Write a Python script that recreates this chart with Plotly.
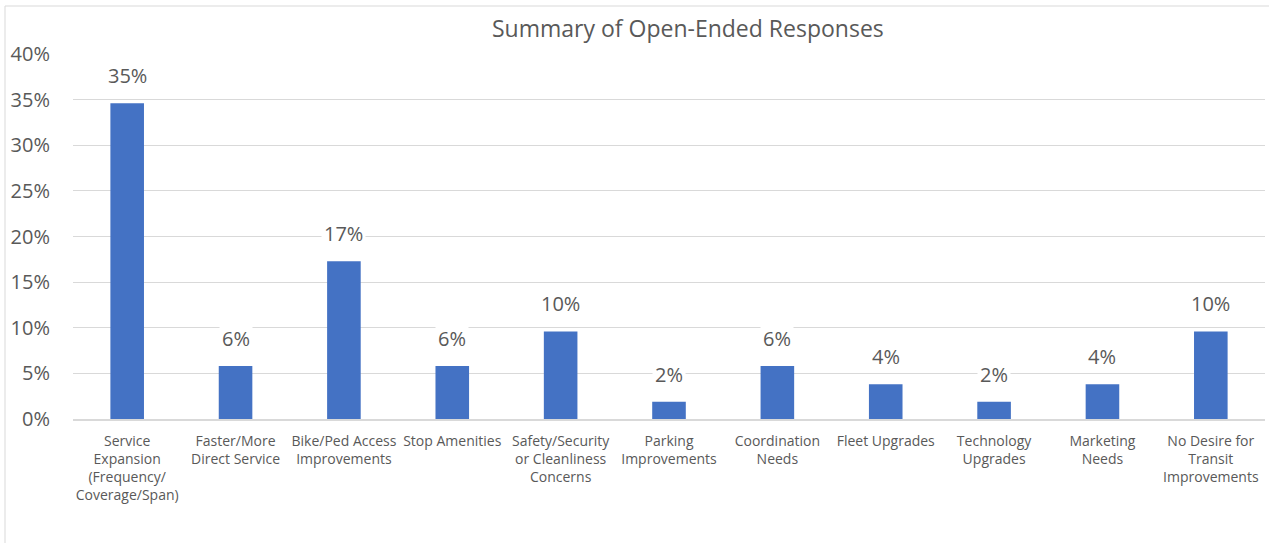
import plotly.graph_objects as go

categories = [
    "Service<br>Expansion<br>(Frequency/<br>Coverage/Span)",
    "Faster/More<br>Direct Service",
    "Bike/Ped Access<br>Improvements",
    "Stop Amenities",
    "Safety/Security<br>or Cleanliness<br>Concerns",
    "Parking<br>Improvements",
    "Coordination<br>Needs",
    "Fleet Upgrades",
    "Technology<br>Upgrades",
    "Marketing<br>Needs",
    "No Desire for<br>Transit<br>Improvements",
]
shares = [0.346, 0.058, 0.173, 0.058, 0.096, 0.019, 0.058, 0.038, 0.019, 0.038, 0.096]
y_ticks = [0, 0.05, 0.10, 0.15, 0.20, 0.25, 0.30, 0.35, 0.40]

FONT = "Open Sans"
GREY = "#595959"
GRID = "#d9d9d9"

W, H = 1269, 543
ML, MR, MT, MB = 73, 4, 54, 124
pw, ph = W - ML - MR, H - MT - MB

fig = go.Figure(
    go.Bar(
        x=categories,
        y=shares,
        marker=dict(color="#4472C4", line=dict(width=0)),
        hoverinfo="skip",
    )
)

# value labels with white boxes over the gridlines
for c, v in zip(categories, shares):
    fig.add_annotation(
        x=c, y=v, xref="x", yref="y",
        text=f"{v:.0%}", showarrow=False,
        yanchor="bottom", yshift=11,
        bgcolor="white", borderpad=2,
        font=dict(family=FONT, size=20, color=GREY),
    )

# chart title
fig.add_annotation(
    x=(688 - ML) / pw, y=(H - 28 - MB) / ph, xref="paper", yref="paper",
    text="Summary of Open-Ended Responses", showarrow=False,
    xanchor="center", yanchor="middle",
    font=dict(family=FONT, size=23, color=GREY),
)

# chart frame
fig.add_shape(
    type="rect", xref="paper", yref="paper",
    x0=(5 - ML) / pw, x1=(W + 5 - ML) / pw,
    y0=(H - 560 - MB) / ph, y1=(H - 6 - MB) / ph,
    line=dict(color=GRID, width=1), fillcolor="rgba(0,0,0,0)", layer="below",
)

fig.update_layout(
    width=W, height=H,
    margin=dict(l=ML, r=MR, t=MT, b=MB),
    paper_bgcolor="white", plot_bgcolor="white",
    bargap=0.69,
    showlegend=False,
    font=dict(family=FONT, color=GREY),
)
fig.update_xaxes(
    showgrid=False, showline=True, linecolor=GRID, linewidth=2,
    ticks="", tickangle=0, tickfont=dict(family=FONT, size=14, color=GREY),
    ticklabelstandoff=8,
)
fig.update_yaxes(
    range=[0, 0.40], tickvals=y_ticks, tickformat=".0%",
    showgrid=True, gridcolor=GRID, gridwidth=1, zeroline=False,
    tickfont=dict(family=FONT, size=20, color=GREY),
    ticklabelstandoff=22,
)

fig.write_html("out.html")
